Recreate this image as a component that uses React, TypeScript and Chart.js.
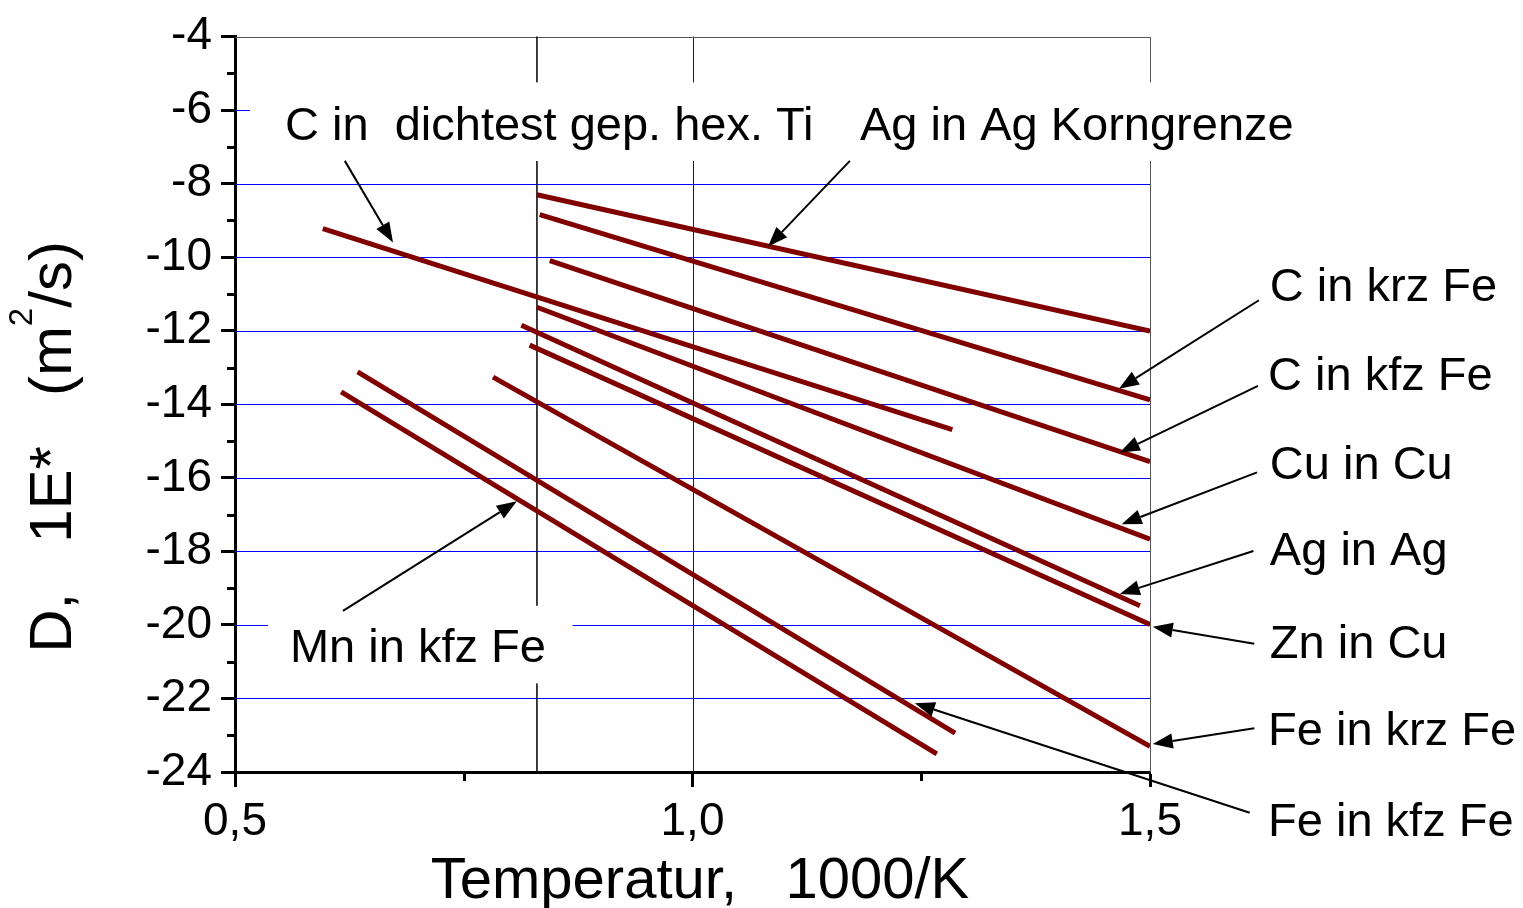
import { useEffect, useRef } from 'react';
import { Chart, registerables } from 'chart.js';

Chart.register(...registerables);

// ---- data (x = 1000/K, y = log10 D) ----
const seriesNames = [
  'Ag in Ag Korngrenze',
  'C in krz Fe',
  'C in kfz Fe',
  'C in dichtest gep. hex. Ti',
  'Cu in Cu',
  'Ag in Ag',
  'Zn in Cu',
  'Fe in krz Fe',
  'Fe in kfz Fe',
  'Mn in kfz Fe',
];
const startX = [0.83, 0.833, 0.844, 0.596, 0.83, 0.813, 0.822, 0.782, 0.634, 0.616];
const startY = [-8.3, -8.84, -10.09, -9.22, -11.36, -11.85, -12.39, -13.26, -13.12, -13.66];
const endX = [1.5, 1.5, 1.5, 1.284, 1.5, 1.489, 1.5, 1.5, 1.287, 1.267];
const endY = [-12.01, -13.88, -15.56, -14.69, -17.67, -19.48, -19.99, -23.3, -22.94, -23.51];

// ---- axes ----
const xMin = 0.5;
const xMax = 1.5;
const xStep = 0.5;
const xMinorTicks = [0.75, 1.25];
const xGridValues = [1.0];
const yMin = -24;
const yMax = -4;
const yStep = 2;
const yMinorTicks = [-5, -7, -9, -11, -13, -15, -17, -19, -21, -23];
const yGridValues = [-6, -8, -10, -12, -14, -16, -18, -20, -22];
const markerLineX = 0.83;

// ---- annotation labels (left x, baseline y in data units) ----
const labelTexts = [
  'C in  dichtest gep. hex. Ti',
  'Ag in Ag Korngrenze',
  'C in krz Fe',
  'C in kfz Fe',
  'Cu in Cu',
  'Ag in Ag',
  'Zn in Cu',
  'Fe in krz Fe',
  'Fe in kfz Fe',
  'Mn in kfz Fe',
];
const labelX = [0.5546, 1.183, 1.631, 1.629, 1.631, 1.631, 1.631, 1.629, 1.629, 0.56];
const labelY = [-6.81, -6.81, -11.2, -13.61, -16.04, -18.36, -20.91, -23.27, -25.73, -21.02];

// ---- white label boxes ----
const boxX1 = [0.5164, 0.536];
const boxX2 = [1.664, 0.869];
const boxY1 = [-5.245, -19.48];
const boxY2 = [-7.383, -21.59];

// ---- arrows (from -> tip) ----
const arrowFromX = [0.62, 1.172, 1.619, 1.618, 1.617, 1.613, 1.614, 1.614, 1.609, 0.618];
const arrowFromY = [-7.38, -7.38, -11.17, -13.5, -15.85, -17.99, -20.51, -22.81, -25.11, -19.62];
const arrowToX = [0.6727, 1.0825, 1.466, 1.467, 1.469, 1.467, 1.503, 1.503, 1.243, 0.808];
const arrowToY = [-9.6, -9.71, -13.58, -15.31, -17.26, -19.16, -20.05, -23.24, -22.13, -16.64];

const FONT = '"Liberation Sans", Arial, sans-serif';
const LINE_COLOR = '#800000';
const GRID_COLOR = '#0000ff';

const overlayPlugin = {
  id: 'overlay',
  beforeDatasetsDraw(chart: any) {
    const { ctx, chartArea: a, scales } = chart;
    const x = scales.x;
    const y = scales.y;
    ctx.save();
    // blue grid
    ctx.strokeStyle = GRID_COLOR;
    ctx.lineWidth = 1;
    ctx.beginPath();
    yGridValues.forEach((v) => {
      const py = Math.round(y.getPixelForValue(v)) + 0.5;
      ctx.moveTo(a.left, py);
      ctx.lineTo(a.right, py);
    });
    xGridValues.forEach((v) => {
      const px = Math.round(x.getPixelForValue(v)) + 0.5;
      ctx.moveTo(px, a.top);
      ctx.lineTo(px, a.bottom);
    });
    ctx.stroke();
    // top and right frame
    ctx.strokeStyle = '#555';
    ctx.lineWidth = 1;
    ctx.beginPath();
    ctx.moveTo(a.left, Math.round(a.top) + 0.5);
    ctx.lineTo(Math.round(a.right) + 0.5, Math.round(a.top) + 0.5);
    ctx.lineTo(Math.round(a.right) + 0.5, a.bottom);
    ctx.stroke();
    // minor ticks
    ctx.strokeStyle = '#000';
    ctx.lineWidth = 3;
    ctx.beginPath();
    yMinorTicks.forEach((v) => {
      const py = Math.round(y.getPixelForValue(v)) + 0.5;
      ctx.moveTo(a.left - 8, py);
      ctx.lineTo(a.left, py);
    });
    xMinorTicks.forEach((v) => {
      const px = Math.round(x.getPixelForValue(v)) + 0.5;
      ctx.moveTo(px, a.bottom);
      ctx.lineTo(px, a.bottom + 9);
    });
    ctx.stroke();
    // black vertical reference line
    ctx.lineWidth = 1.5;
    ctx.beginPath();
    const mx = x.getPixelForValue(markerLineX);
    ctx.moveTo(mx, a.top);
    ctx.lineTo(mx, a.bottom);
    ctx.stroke();
    ctx.restore();
  },
  afterDraw(chart: any) {
    const { ctx, scales } = chart;
    const x = scales.x;
    const y = scales.y;
    ctx.save();
    // white boxes
    ctx.fillStyle = '#fff';
    boxX1.forEach((_, i) => {
      const x1 = x.getPixelForValue(boxX1[i]);
      const x2 = x.getPixelForValue(boxX2[i]);
      const y1 = y.getPixelForValue(boxY1[i]);
      const y2 = y.getPixelForValue(boxY2[i]);
      ctx.fillRect(x1, y1, x2 - x1, y2 - y1);
    });
    // labels
    ctx.fillStyle = '#000';
    ctx.font = `47px ${FONT}`;
    ctx.textAlign = 'left';
    ctx.textBaseline = 'alphabetic';
    labelTexts.forEach((t, i) => {
      ctx.fillText(t, x.getPixelForValue(labelX[i]), y.getPixelForValue(labelY[i]));
    });
    // arrows
    ctx.strokeStyle = '#000';
    ctx.lineWidth = 2;
    arrowFromX.forEach((_, i) => {
      const fx = x.getPixelForValue(arrowFromX[i]);
      const fy = y.getPixelForValue(arrowFromY[i]);
      const tx = x.getPixelForValue(arrowToX[i]);
      const ty = y.getPixelForValue(arrowToY[i]);
      const ang = Math.atan2(ty - fy, tx - fx);
      const headLen = 20;
      const headW = 7.5;
      const bx = tx - headLen * Math.cos(ang);
      const by = ty - headLen * Math.sin(ang);
      ctx.beginPath();
      ctx.moveTo(fx, fy);
      ctx.lineTo(bx, by);
      ctx.stroke();
      ctx.beginPath();
      ctx.moveTo(tx, ty);
      ctx.lineTo(bx + headW * Math.sin(ang), by - headW * Math.cos(ang));
      ctx.lineTo(bx - headW * Math.sin(ang), by + headW * Math.cos(ang));
      ctx.closePath();
      ctx.fill();
    });
    // x axis title
    ctx.font = `58px ${FONT}`;
    ctx.textAlign = 'center';
    ctx.fillText('Temperatur,   1000/K', 700, 898);
    // y axis title (rotated, with superscript)
    ctx.translate(71, 447);
    ctx.rotate(-Math.PI / 2);
    ctx.textAlign = 'left';
    const mainFont = `60px ${FONT}`;
    const supFont = `33px ${FONT}`;
    const p1 = 'D,   1E*   (m';
    const p2 = '2';
    const p3 = '/s)';
    ctx.font = mainFont;
    const w1 = ctx.measureText(p1).width;
    const w3 = ctx.measureText(p3).width;
    ctx.font = supFont;
    const w2 = ctx.measureText(p2).width;
    let cx = -(w1 + w2 + w3) / 2;
    ctx.font = mainFont;
    ctx.fillText(p1, cx, 0);
    cx += w1;
    ctx.font = supFont;
    ctx.fillText(p2, cx, -39);
    cx += w2;
    ctx.font = mainFont;
    ctx.fillText(p3, cx, 0);
    ctx.restore();
  },
};

export default function App() {
  const canvasRef = useRef<HTMLCanvasElement | null>(null);

  useEffect(() => {
    if (!canvasRef.current) return;
    Chart.defaults.font.family = FONT;
    const datasets = seriesNames.map((name, i) => ({
      label: name,
      data: [
        { x: startX[i], y: startY[i] },
        { x: endX[i], y: endY[i] },
      ],
      borderColor: LINE_COLOR,
      backgroundColor: LINE_COLOR,
      borderWidth: 5,
      borderCapStyle: 'butt' as const,
      pointRadius: 0,
      fill: false,
      tension: 0,
    }));
    const chart = new Chart(canvasRef.current, {
      type: 'line',
      data: { datasets },
      options: {
        responsive: false,
        animation: false,
        layout: { padding: { top: 33, right: 373, left: 0, bottom: 0 } },
        plugins: {
          legend: { display: false },
          tooltip: { enabled: false },
        },
        scales: {
          x: {
            type: 'linear',
            min: xMin,
            max: xMax,
            afterFit: (s: any) => {
              s.height = 136;
            },
            ticks: {
              stepSize: xStep,
              color: '#000',
              font: { size: 46, family: FONT },
              padding: 8,
              maxRotation: 0,
              callback: (v: any) => Number(v).toFixed(1).replace('.', ','),
            },
            grid: {
              drawOnChartArea: false,
              tickColor: '#000',
              tickLength: 15,
              tickWidth: 3,
            },
            border: { display: true, color: '#000', width: 3 },
          },
          y: {
            type: 'linear',
            min: yMin,
            max: yMax,
            afterFit: (s: any) => {
              s.width = 235;
            },
            ticks: {
              stepSize: yStep,
              color: '#000',
              font: { size: 46, family: FONT },
              padding: 9,
              callback: (v: any) => String(v),
            },
            grid: {
              drawOnChartArea: false,
              tickColor: '#000',
              tickLength: 14,
              tickWidth: 3,
            },
            border: { display: true, color: '#000', width: 3 },
          },
        },
      },
      plugins: [overlayPlugin],
    });
    return () => chart.destroy();
  }, []);

  return (
    <div style={{ position: 'fixed', left: 0, top: 0, width: 1523, height: 908, background: '#fff' }}>
      <canvas ref={canvasRef} width={1523} height={908} />
    </div>
  );
}
